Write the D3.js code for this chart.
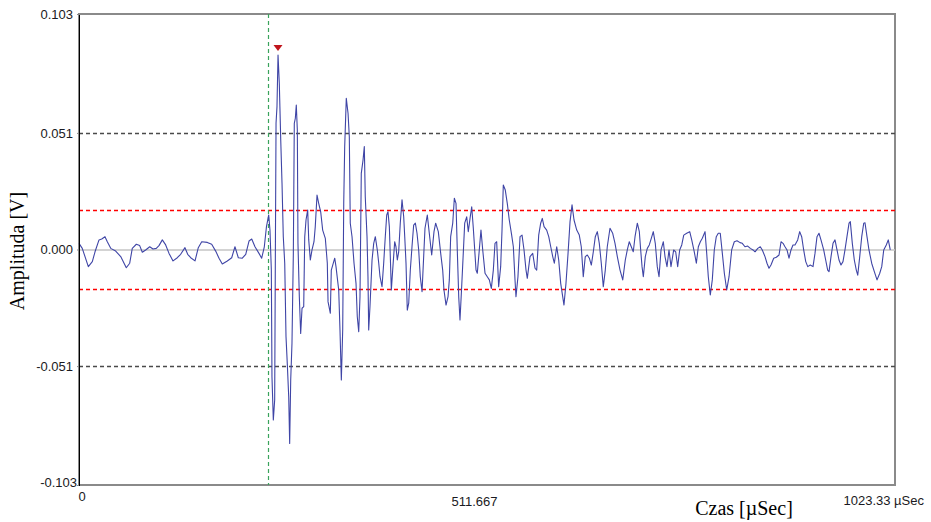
<!DOCTYPE html>
<html>
<head>
<meta charset="utf-8">
<script src="https://cdn.jsdelivr.net/npm/d3@7/dist/d3.min.js"></script>
<style>
body { margin: 0; background: #fff; }
.axis text { font-family: "Liberation Sans", Arial, sans-serif; font-size: 13px; fill: #1a1a22; }
.title { font-family: "Liberation Serif", "Times New Roman", serif; font-size: 20px; fill: #000; }
</style>
</head>
<body>
<div id="chart"></div>
<script>

// time of each sample [µs]
var timeUs = [
	0, 4.1, 11.7, 16.7, 20.1, 25.1, 28.5, 32.6, 35.5, 39.8,
	46.0, 52.3, 59.3, 63.6, 66.8, 71.9, 76.1, 79.4, 83.6, 88.7,
	92.8, 96.9, 100.3, 104.5, 108.7, 112.9, 117.9, 123.3, 127.5, 132.9,
	136.3, 140.1, 145.5, 149.6, 153.9, 160.9, 166.4, 171.4, 175.6, 179.7,
	186.0, 191.5, 195.6, 199.8, 204.8, 209.1, 213.2, 216.6, 220.7, 225.7,
	229.1, 232.4, 235.1, 237.9, 239.5, 241.2, 242.0, 243.7, 245.4, 246.2,
	247.1, 248.3, 249.6, 251.2, 253.0, 254.6, 256.2, 258.0, 259.6, 261.2,
	263.0, 264.2, 265.5, 267.1, 268.8, 270.0, 271.3, 272.5, 273.8, 274.6,
	276.3, 278.0, 279.7, 281.8, 283.1, 284.7, 286.8, 288.1, 290.1, 292.2,
	294.7, 296.3, 298.5, 300.6, 303.1, 305.6, 308.9, 311.4, 312.3, 315.2,
	316.4, 318.2, 320.7, 322.3, 325.7, 327.3, 329.0, 330.7, 332.0, 333.2,
	335.2, 337.4, 339.0, 340.2, 342.4, 344.9, 347.4, 349.0, 350.8, 352.4,
	354.0, 356.2, 357.8, 359.0, 361.2, 362.4, 363.3, 364.9, 367.5, 369.6,
	371.6, 374.1, 375.9, 377.5, 380.0, 382.1, 384.1, 385.9, 387.5, 389.2,
	390.4, 391.7, 393.4, 395.9, 397.5, 399.2, 400.9, 402.9, 405.1, 407.2,
	408.5, 410.1, 411.7, 413.5, 415.5, 417.6, 419.7, 421.8, 423.9, 426.0,
	428.0, 430.2, 433.9, 436.8, 439.3, 442.3, 445.2, 447.3, 450.6, 453.6,
	456.1, 457.7, 460.3, 462.8, 464.4, 466.1, 468.7, 470.7, 472.8, 474.4,
	476.2, 477.8, 479.9, 481.9, 483.7, 486.2, 488.2, 490.4, 492.5, 494.5,
	497.9, 499.5, 502.0, 504.1, 506.3, 509.2, 512.0, 514.6, 517.1, 519.6,
	521.7, 523.8, 526.3, 528.8, 530.5, 532.1, 534.6, 537.1, 539.6, 542.6,
	544.7, 546.8, 548.0, 550.5, 553.1, 555.6, 558.1, 560.6, 562.2, 565.6,
	569.0, 571.9, 574.0, 576.5, 579.0, 581.0, 583.2, 586.5, 589.1, 591.6,
	594.1, 596.1, 599.1, 601.6, 604.1, 606.6, 608.2, 610.7, 613.3, 615.8,
	618.3, 620.8, 624.2, 627.4, 629.9, 632.4, 634.9, 637.5, 640.0, 642.5,
	645.0, 647.5, 650.0, 652.5, 655.0, 657.5, 660.0, 662.5, 665.9, 669.3,
	672.2, 675.1, 678.5, 681.9, 685.1, 687.6, 690.1, 692.6, 695.1, 697.3,
	700.2, 702.7, 704.4, 706.1, 707.7, 710.2, 712.7, 715.2, 717.7, 720.2,
	722.7, 725.2, 727.4, 729.9, 732.8, 734.9, 737.4, 739.9, 742.4, 745.8,
	748.3, 750.8, 753.3, 755.9, 758.4, 762.1, 765.9, 768.4, 771.6, 774.2,
	776.7, 779.2, 781.7, 785.1, 787.2, 789.2, 791.7, 794.2, 796.7, 799.2,
	801.7, 804.2, 806.8, 809.3, 812.3, 815.2, 818.5, 821.8, 825.2, 829.0,
	831.8, 835.2, 838.6, 841.9, 845.3, 847.8, 851.2, 854.4, 856.9, 860.3,
	862.8, 865.3, 867.8, 871.2, 874.5, 877.9, 880.4, 882.9, 885.4, 887.9,
	890.4, 892.9, 895.4, 897.9, 901.3, 903.8, 906.3, 908.8, 911.4, 913.9,
	917.1, 920.5, 923.0, 925.5, 928.0, 930.5, 933.9, 936.4, 938.9, 940.6,
	943.1, 945.6, 948.1, 950.6, 953.1, 955.6, 958.1, 960.6, 963.1, 965.7,
	967.3, 969.8, 972.3, 974.8, 976.6, 979.1, 981.6, 984.1, 985.7, 988.2,
	990.7, 994.1, 997.4, 1000.8, 1004.2, 1006.7, 1009.2, 1012.4, 1014.9, 1017.4
];

// amplitude of each sample [mV]
var amplitudeMv = [
	2.7, 0.5, -7.5, -5.3, -1.0, 4.2, 4.6, 5.6, 3.4, 0.5,
	-0.7, -3.1, -8.0, -6.0, 0.5, 2.3, 1.7, -1.2, -0.2, 1.2,
	0.2, 0.5, 1.7, 4.2, 2.0, -1.7, -5.0, -3.6, -2.1, 0.8,
	-2.1, -3.6, -5.0, 0.8, 3.4, 3.1, 2.3, -0.7, -3.8, -6.3,
	-5.0, -3.6, 1.2, -3.6, -3.8, -2.1, 3.7, 4.6, 1.2, -1.7,
	-3.8, 1.2, 10.0, 15.1, 8.5, -9.0, -55.6, -74.6, -65.8, -6.0,
	55.2, 62.5, 85.1, 72.7, 47.9, 29.0, 5.6, -6.0, -38.1, -49.8,
	-64.4, -84.8, -57.1, -41.0, -1.7, 55.2, 57.4, 63.2, 52.3, 2.7,
	-20.6, -36.7, -25.7, -25.0, 5.6, 12.9, 17.3, 4.2, -4.6, -0.2,
	3.4, 10.0, 23.8, 20.2, 16.5, 8.5, 4.9, -6.0, -22.8, -27.9,
	-9.0, -6.8, -3.8, -7.5, -17.7, -35.2, -57.1, -35.2, 20.2, 45.0,
	66.1, 59.6, 49.3, 11.5, 5.6, -6.0, -14.8, -29.4, -36.0, -20.6,
	33.3, 39.1, 45.0, 23.1, 5.6, -11.9, -35.2, -25.0, -4.6, 2.7,
	5.6, -0.2, -6.0, -11.9, -16.3, -6.0, 5.6, 15.1, 16.5, 10.0,
	-3.1, -17.7, -9.0, 3.4, 1.2, -4.6, -1.0, 11.5, 21.7, 14.3,
	5.6, -6.0, -26.5, -23.5, -9.0, 1.2, 10.7, 11.5, 7.1, -0.2,
	-11.9, -18.5, 9.3, 15.1, 7.1, -2.4, 7.8, 11.5, 7.8, -1.7,
	-9.0, -17.7, -24.3, -20.6, -13.3, 5.6, 11.5, 22.4, 20.2, -0.2,
	-20.6, -30.8, -16.3, -1.7, 11.5, 14.3, 7.8, 13.6, 18.7, 9.3,
	-9.0, -10.4, -0.2, 8.5, -0.2, -10.4, -11.9, -13.3, -17.0, -9.0,
	2.7, 3.4, -16.3, -7.5, 8.5, 28.2, 26.0, 20.2, 12.9, 6.3,
	1.2, -13.3, -20.6, -11.9, 5.6, 6.3, -0.2, -9.0, -12.6, -3.1,
	-1.7, -8.2, -9.0, 6.3, 11.5, 13.6, 10.0, 8.5, 5.6, 1.2,
	-3.1, -6.0, 1.2, -4.6, -14.8, -20.6, -24.3, -14.8, -1.7, 12.2,
	19.5, 12.9, 8.5, 6.3, 1.2, -11.9, -3.1, -2.4, -3.8, -6.8,
	-1.0, 5.6, 7.8, 2.7, -6.0, -16.3, -9.0, 1.2, 9.3, 7.1,
	2.7, -3.1, -9.0, -13.3, -4.6, -0.2, 3.4, 1.2, -1.0, 5.6,
	11.5, 7.8, -0.2, -7.5, -11.9, -3.1, 0.5, 2.0, 4.9, 7.8,
	2.7, -7.5, -11.9, -0.2, 3.4, -3.1, -7.5, -0.2, -7.5, -0.2,
	-1.0, -7.5, -0.2, 2.0, 6.3, 7.1, 7.8, 4.2, -1.0, -6.0,
	1.2, 3.4, 4.9, 7.8, -1.7, -11.9, -19.9, -13.3, -0.2, 5.6,
	7.1, 7.1, -1.7, -10.4, -17.7, -11.9, -0.2, 3.4, 3.8, 3.0,
	2.7, 1.2, 1.5, 0.5, -0.2, -1.0, 0.5, 1.2, -0.2, -3.1,
	-6.0, -8.2, -6.8, -3.8, -3.4, -2.4, 3.4, 2.7, 1.2, -0.2,
	-3.8, -0.2, 2.0, 2.0, 4.2, 7.8, 5.6, -0.2, -5.3, -7.5,
	-6.8, -7.5, -1.7, 5.6, 7.1, 4.2, -0.2, -4.6, -9.0, -9.7,
	-3.1, 2.7, 4.2, -0.2, -4.6, -6.8, -5.3, -0.2, 5.6, 11.5,
	12.2, 2.7, -4.6, -9.0, -11.2, -3.1, 5.6, 11.5, 11.7, 5.6,
	-0.2, -6.0, -9.7, -13.3, -10.4, -7.5, -0.2, 2.0, 4.2, -0.2
];

var yTickValues = [0.103, 0.051, 0, -0.051, -0.103];
var yTickLabels = ["0.103", "0.051", "0.000", "-0.051", "-0.103"];
var xTickValues = [0, 511.667, 1023.33];
var xTickLabels = ["0", "511.667", "1023.33 µSec"];

var gridLevels = [0.051, -0.051];        // black dashed
var thresholdLevels = [0.0172, -0.0172]; // red dashed
var triggerTimeUs = 237;                 // green dashed

var xLabel = "Czas [µSec]";
var yLabel = "Amplituda [V]";


var margin = { top: 14, right: 36, bottom: 37, left: 79 };
var width = 931 - margin.left - margin.right,
	height = 522 - margin.top - margin.bottom;

var svg = d3.select("#chart").append("svg")
	.attr("width", 931)
	.attr("height", 522)
	.append("g")
	.attr("transform", "translate(" + margin.left + "," + margin.top + ")");

var x = d3.scaleLinear().domain([0, 1023.33]).range([0, width]);
var y = d3.scaleLinear().domain([-0.103, 0.103]).range([height, 0]);

// samples -> objects in volts
var data = timeUs.map((t, i) => ({ t: t, v: amplitudeMv[i] / 1000 }));

// frame
svg.append("rect")
	.attr("width", width)
	.attr("height", height)
	.attr("fill", "none")
	.attr("stroke", "#8a8a8a")
	.attr("stroke-width", 1.5)
	.attr("shape-rendering", "crispEdges");

// zero line
svg.append("line")
	.attr("x1", 0).attr("x2", width)
	.attr("y1", y(0) + 0.5).attr("y2", y(0) + 0.5)
	.attr("stroke", "#c4c4c4")
	.attr("stroke-width", 1.5);

function hLine(value, color, cls) {
	var yy = Math.round(y(value)) + 0.5;
	svg.append("path")
		.attr("class", cls)
		.attr("d", "M0," + yy + "H" + width)
		.attr("fill", "none")
		.attr("stroke", color)
		.attr("stroke-width", 1.3)
		.attr("stroke-dasharray", "4,3");
}

gridLevels.forEach(d => hLine(d, "#4a4a4a", "grid"));
thresholdLevels.forEach(d => hLine(d, "#ff0000", "threshold"));

var tx = Math.round(x(triggerTimeUs)) + 0.5;
svg.append("path")
	.attr("d", "M" + tx + ",0V" + height)
	.attr("fill", "none")
	.attr("stroke", "#3aa35c")
	.attr("stroke-width", 1.2)
	.attr("stroke-dasharray", "4,3");

// waveform
var line = d3.line().x(d => x(d.t)).y(d => y(d.v));
svg.append("path")
	.datum(data)
	.attr("fill", "none")
	.attr("stroke", "#3f45a6")
	.attr("stroke-width", 1.1)
	.attr("stroke-linejoin", "round")
	.attr("d", line);

// peak marker
var peak = data[d3.maxIndex(data, d => d.v)];
var px = x(peak.t), py = y(peak.v) - 4;
svg.append("path")
	.attr("d", "M" + (px - 4.5) + "," + (py - 6) + "L" + (px + 4.5) + "," + (py - 6) + "L" + px + "," + py + "Z")
	.attr("fill", "#c0141c");

// axes
var yAxis = d3.axisLeft(y)
	.tickValues(yTickValues)
	.tickFormat((d, i) => yTickLabels[i])
	.tickSizeInner(2).tickSizeOuter(0)
	.tickPadding(4);

var yAxisGroup = svg.append("g").attr("class", "y-axis axis").call(yAxis);
yAxisGroup.select(".domain").attr("stroke", "#000").attr("shape-rendering", "crispEdges");
yAxisGroup.selectAll(".tick line").attr("stroke", "#8a8a8a");
yAxisGroup.selectAll(".tick text").filter(d => d == -0.103)
	.attr("x", -2).attr("dy", "0.1em");

var xAxis = d3.axisBottom(x)
	.tickValues(xTickValues)
	.tickFormat((d, i) => xTickLabels[i])
	.tickSize(0);

var xAxisGroup = svg.append("g").attr("class", "x-axis axis")
	.attr("transform", "translate(0," + height + ")")
	.call(xAxis);
xAxisGroup.select(".domain").remove();

// label placement as in the original software
var xLabelOffsets = [{ dx: -1, y: 16, anchor: "start" }, { dx: -13, y: 21, anchor: "middle" }, { dx: -52, y: 20, anchor: "start" }];
xAxisGroup.selectAll(".tick text")
	.attr("text-anchor", (d, i) => xLabelOffsets[i].anchor)
	.attr("x", (d, i) => xLabelOffsets[i].dx)
	.attr("y", (d, i) => xLabelOffsets[i].y)
	.attr("dy", "0");

// titles
svg.append("text")
	.attr("class", "title")
	.attr("text-anchor", "middle")
	.attr("x", 744 - margin.left)
	.attr("y", 515 - margin.top)
	.text(xLabel);

svg.append("text")
	.attr("class", "title")
	.attr("text-anchor", "middle")
	.attr("transform", "translate(" + (24 - margin.left) + "," + (251 - margin.top) + ") rotate(-90)")
	.text(yLabel);

</script>
</body>
</html>
